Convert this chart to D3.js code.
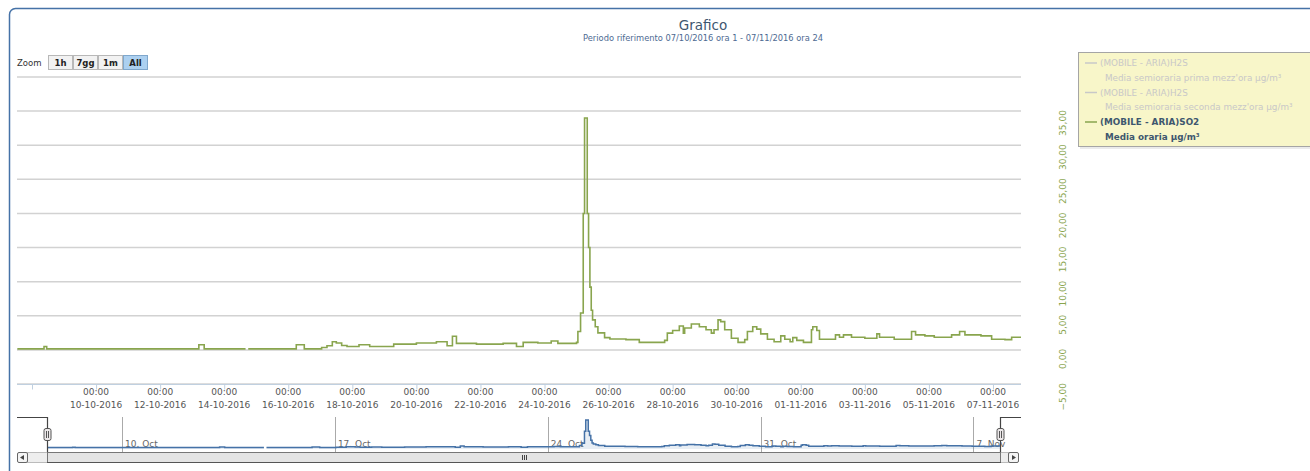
<!DOCTYPE html>
<html>
<head>
<meta charset="utf-8">
<script src="https://cdn.jsdelivr.net/npm/d3@7"></script>
<style>
  body { margin: 0; background: #fff; }
  svg { display: block; font-family: "DejaVu Sans", sans-serif; }
</style>
</head>
<body>
<svg id="chart" width="1310" height="471"></svg>
<script>
// SO2 hourly mean (only the points where the level changes)
var so2Times = [
  "2016-10-07 13:00", "2016-10-08 09:00", "2016-10-08 11:00", "2016-10-13 05:00", "2016-10-13 09:00",
  "2016-10-14 16:00", "2016-10-14 17:00", "2016-10-14 18:00", "2016-10-16 06:00", "2016-10-16 12:00",
  "2016-10-17 01:00", "2016-10-17 05:00", "2016-10-17 09:00", "2016-10-17 12:00", "2016-10-17 16:00",
  "2016-10-17 20:00", "2016-10-18 05:00", "2016-10-18 13:00", "2016-10-19 07:00", "2016-10-20 00:00",
  "2016-10-20 15:00", "2016-10-20 23:00", "2016-10-21 03:00", "2016-10-21 06:00", "2016-10-21 21:00",
  "2016-10-22 17:00", "2016-10-23 03:00", "2016-10-23 08:00", "2016-10-23 19:00", "2016-10-24 05:00",
  "2016-10-24 10:00", "2016-10-25 00:00", "2016-10-25 01:00", "2016-10-25 03:00", "2016-10-25 05:00",
  "2016-10-25 06:00", "2016-10-25 08:00", "2016-10-25 09:00", "2016-10-25 10:00", "2016-10-25 11:00",
  "2016-10-25 12:00", "2016-10-25 14:00", "2016-10-25 16:00", "2016-10-25 21:00", "2016-10-26 01:00",
  "2016-10-26 13:00", "2016-10-26 23:00", "2016-10-27 18:00", "2016-10-27 20:00", "2016-10-28 00:00",
  "2016-10-28 05:00", "2016-10-28 08:00", "2016-10-28 09:00", "2016-10-28 14:00", "2016-10-28 20:00",
  "2016-10-29 01:00", "2016-10-29 05:00", "2016-10-29 07:00", "2016-10-29 10:00", "2016-10-29 12:00",
  "2016-10-29 15:00", "2016-10-29 20:00", "2016-10-30 01:00", "2016-10-30 06:00", "2016-10-30 08:00",
  "2016-10-30 12:00", "2016-10-30 15:00", "2016-10-30 18:00", "2016-10-30 23:00", "2016-10-31 04:00",
  "2016-10-31 09:00", "2016-10-31 12:00", "2016-10-31 16:00", "2016-10-31 18:00", "2016-10-31 21:00",
  "2016-11-01 02:00", "2016-11-01 08:00", "2016-11-01 09:00", "2016-11-01 12:00", "2016-11-01 14:00",
  "2016-11-02 02:00", "2016-11-02 05:00", "2016-11-02 08:00", "2016-11-02 14:00", "2016-11-03 00:00",
  "2016-11-03 09:00", "2016-11-03 11:00", "2016-11-03 22:00", "2016-11-04 11:00", "2016-11-04 14:00",
  "2016-11-04 21:00", "2016-11-05 04:00", "2016-11-05 17:00", "2016-11-05 23:00", "2016-11-06 03:00",
  "2016-11-06 15:00", "2016-11-06 23:00", "2016-11-07 09:00", "2016-11-07 14:00", "2016-11-07 21:00"
];
var so2Values = [
  0.15, 0.5, 0.15, 0.75, 0.15,
  0.15, null, 0.15, 0.75, 0.15,
  0.35, 0.6, 1.2, 1.0, 0.65,
  0.5, 0.75, 0.5, 0.85, 1.0,
  1.2, 0.6, 2.0, 0.95, 0.85,
  0.95, 0.5, 1.1, 1.0, 1.3,
  0.95, 1.1, 2.7, 5.4, 20,
  34, 20, 15, 9.2, 5.8,
  4.4, 3.4, 2.5, 1.8, 1.6,
  1.5, 1.1, 1.4, 2.45, 2.85,
  3.5, 2.45, 3.2, 3.8, 3.4,
  2.95, 2.45, 2.95, 4.4, 4.15,
  2.95, 1.7, 1.1, 1.5, 2.7,
  3.4, 3.05, 2.35, 1.55, 1.2,
  2.05, 1.55, 1.2, 1.8, 1.4,
  1.1, 2.95, 3.4, 2.85, 1.55,
  2.2, 1.85, 2.2, 1.85, 1.7,
  2.35, 1.85, 1.55, 2.7, 2.2,
  2.05, 1.85, 2.2, 2.7, 2.2,
  2.05, 1.55, 1.5, 1.85, 1.85
];

var xStart = "2016-10-07 12:45", xEnd = "2016-11-07 21:00";
var xTickDates = ["2016-10-08", "2016-10-10", "2016-10-12", "2016-10-14", "2016-10-16", "2016-10-18",
  "2016-10-20", "2016-10-22", "2016-10-24", "2016-10-26", "2016-10-28", "2016-10-30",
  "2016-11-01", "2016-11-03", "2016-11-05", "2016-11-07"];
var yTicks = [-5, 0, 5, 10, 15, 20, 25, 30, 35, 40];
var yLabelTicks = [-5, 0, 5, 10, 15, 20, 25, 30, 35];
var navTickDates = ["2016-10-10", "2016-10-17", "2016-10-24", "2016-10-31", "2016-11-07"];
var zoomButtons = ["1h", "7gg", "1m", "All"];
var legendNames = ["(MOBILE - ARIA)H2S", "(MOBILE - ARIA)H2S", "(MOBILE - ARIA)SO2"];
var legendUnits = ["Media semioraria prima mezz'ora \u00b5g/m\u00b3",
  "Media semioraria seconda mezz'ora \u00b5g/m\u00b3", "Media oraria \u00b5g/m\u00b3"];
var legendVisible = [false, false, true];

var green = "#89A54E", blue = "#4572A7", title = "#3E576F";

var parseT = d3.timeParse("%Y-%m-%d %H:%M"),
    parseD = d3.timeParse("%Y-%m-%d");
var data = so2Times.map(function(t, i) { return {t: parseT(t), v: so2Values[i]}; });

var svg = d3.select("#chart");

var plotL = 17, plotR = 1021, plotT = 77, plotB = 384;
var x = d3.scaleTime().domain([parseT(xStart), parseT(xEnd)]).range([plotL, plotR]);
var y = d3.scaleLinear().domain([-5, 40]).range([plotB, plotT]);

// outer frame
svg.append("rect")
  .attr("x", 9.5).attr("y", 8.5).attr("width", 1330).attr("height", 500)
  .attr("rx", 6).attr("fill", "#fff").attr("stroke", blue).attr("stroke-width", 1.5);

// titles
svg.append("text").attr("x", 703).attr("y", 30).attr("text-anchor", "middle")
  .attr("font-size", 13.5).attr("fill", title).text("Grafico");
svg.append("text").attr("x", 703).attr("y", 41).attr("text-anchor", "middle")
  .attr("font-size", 8.3).attr("fill", "#4d6a92")
  .text("Periodo riferimento 07/10/2016 ora 1 - 07/11/2016 ora 24");

// zoom buttons
svg.append("text").attr("x", 17).attr("y", 66).attr("font-size", 8.5).attr("fill", "#333").text("Zoom");
var bx = d3.scaleBand().domain(zoomButtons).range([48, 147]).paddingInner(0.04);
var btn = svg.selectAll("g.btn").data(zoomButtons).enter().append("g").attr("class", "btn");
btn.append("rect")
  .attr("x", function(d) { return bx(d) + 0.5; }).attr("y", 55.5)
  .attr("width", bx.bandwidth()).attr("height", 14)
  .attr("fill", function(d) { return d == "All" ? "#acd0f0" : "#f2f2f2"; })
  .attr("stroke", function(d) { return d == "All" ? "#7fa7cc" : "#b8b8b8"; });
btn.append("text")
  .attr("x", function(d) { return bx(d) + bx.bandwidth() / 2 + 0.5; }).attr("y", 66)
  .attr("text-anchor", "middle").attr("font-size", 8.5).attr("font-weight", "bold").attr("fill", "#222")
  .text(function(d) { return d; });

// grid
svg.append("g").selectAll("line").data(yTicks).enter().append("line")
  .attr("x1", plotL).attr("x2", plotR)
  .attr("y1", function(d) { return y(d); }).attr("y2", function(d) { return y(d); })
  .attr("stroke", "#d2d2d2").attr("stroke-width", 1.5);

// x axis
var xAxis = svg.append("g").attr("transform", "translate(0," + (plotB + 0.5) + ")")
  .call(d3.axisBottom(x).tickValues(xTickDates.map(parseD)).tickSize(5).tickFormat(""));
xAxis.select(".domain").attr("stroke", "#C0D0E0").attr("d", "M" + plotL + ",0H" + plotR);
xAxis.selectAll(".tick line").attr("stroke", "#C0D0E0");

var fmtDay = d3.timeFormat("%d-%m-%Y");
var xl = svg.append("g").attr("font-size", 9).attr("fill", "#555").attr("text-anchor", "middle");
xl.selectAll("text.h").data(xTickDates.slice(1)).enter().append("text")
  .attr("x", function(d) { return x(parseD(d)); }).attr("y", 395).text("00:00");
xl.selectAll("text.d").data(xTickDates.slice(1)).enter().append("text")
  .attr("x", function(d) { return x(parseD(d)); }).attr("y", 408)
  .text(function(d) { return fmtDay(parseD(d)); });

// y labels on the right, rotated
svg.append("g").selectAll("text").data(yLabelTicks).enter().append("text")
  .attr("transform", function(d) { return "translate(1066," + (y(d) - 1) + ") rotate(-90)"; })
  .attr("text-anchor", "end").attr("font-size", 9).attr("fill", green)
  .text(function(d) { return d3.format(".2f")(d).replace(".", ","); });

// series
svg.append("clipPath").attr("id", "plotclip").append("rect")
  .attr("x", plotL).attr("y", plotT - 10).attr("width", plotR - plotL).attr("height", plotB - plotT + 10);
var line = d3.line()
  .defined(function(d) { return d.v != null; })
  .x(function(d) { return x(d.t); })
  .y(function(d) { return y(d.v); })
  .curve(d3.curveStepAfter);
svg.append("path").datum(data).attr("clip-path", "url(#plotclip)")
  .attr("d", line).attr("fill", "none").attr("stroke", green).attr("stroke-width", 1.6);

// legend
var lg = svg.append("g");
lg.append("rect").attr("x", 1080).attr("y", 54).attr("width", 240).attr("height", 95)
  .attr("fill", "#000").attr("opacity", 0.08);
lg.append("rect").attr("x", 1078.5).attr("y", 52.5).attr("width", 240).attr("height", 94)
  .attr("fill", "#f8f6c9").attr("stroke", "#a5a5a5");
legendNames.forEach(function(n, i) {
  var ly = 66 + i * 29.5;
  var col = legendVisible[i] ? title : "#c8c8c8";
  lg.append("line").attr("x1", 1085).attr("x2", 1097).attr("y1", ly - 3).attr("y2", ly - 3)
    .attr("stroke", legendVisible[i] ? green : "#c8c8c8").attr("stroke-width", 1.5);
  lg.append("text").attr("x", 1100).attr("y", ly).attr("font-size", 8.8).attr("fill", col)
    .attr("font-weight", legendVisible[i] ? "bold" : "normal").text(n);
  lg.append("text").attr("x", 1105).attr("y", ly + 14.5).attr("font-size", 8.8).attr("fill", col)
    .attr("font-weight", legendVisible[i] ? "bold" : "normal").text(legendUnits[i]);
});

// navigator
var navT = 417, navB = 449;
var xn = d3.scaleTime().domain(x.domain()).range([47, 1000]);
var yn = d3.scaleLinear().domain(d3.extent(so2Values)).range([447.5, 420]);

var nt = svg.append("g");
nt.selectAll("line").data(navTickDates).enter().append("line")
  .attr("x1", function(d) { return Math.round(xn(parseD(d))) + 0.5; })
  .attr("x2", function(d) { return Math.round(xn(parseD(d))) + 0.5; })
  .attr("y1", navT).attr("y2", navB + 3).attr("stroke", "#aaa");
nt.selectAll("text").data(navTickDates).enter().append("text")
  .attr("x", function(d) { return xn(parseD(d)) + 3; }).attr("y", 447)
  .attr("font-size", 9).attr("fill", "#666")
  .text(function(d) { return d3.timeFormat("%-d. %b")(parseD(d)); });

var navArea = d3.area()
  .defined(function(d) { return d.v != null; })
  .x(function(d) { return xn(d.t); })
  .y0(navB).y1(function(d) { return yn(d.v); })
  .curve(d3.curveStepAfter);
var navLine = d3.line()
  .defined(function(d) { return d.v != null; })
  .x(function(d) { return xn(d.t); })
  .y(function(d) { return yn(d.v); })
  .curve(d3.curveStepAfter);
svg.append("path").datum(data).attr("d", navArea).attr("fill", blue).attr("opacity", 0.12);
svg.append("path").datum(data).attr("d", navLine).attr("fill", "none").attr("stroke", blue).attr("stroke-width", 1.5);

// navigator outline and handles
svg.append("path")
  .attr("d", "M17,417.5H47.5V463M1000.5,463V417.5H1021")
  .attr("fill", "none").attr("stroke", "#444").attr("stroke-width", 1.2);
[47.5, 1000.5].forEach(function(hx) {
  svg.append("rect").attr("x", hx - 3.5).attr("y", 428.5).attr("width", 7).attr("height", 12)
    .attr("rx", 2).attr("fill", "#ebe7e8").attr("stroke", "#555");
  svg.append("path").attr("d", "M" + (hx - 1) + ",431V438M" + (hx + 1) + ",431V438")
    .attr("stroke", "#555").attr("stroke-width", 1);
});

// scrollbar
var sb = svg.append("g");
sb.append("rect").attr("x", 27.5).attr("y", 452.5).attr("width", 981).attr("height", 10)
  .attr("fill", "#eeeeee").attr("stroke", "#bbb");
sb.append("rect").attr("x", 47.5).attr("y", 452.5).attr("width", 953).attr("height", 10)
  .attr("fill", "#e4e4e4").attr("stroke", "#777");
sb.append("line").attr("x1", 47).attr("x2", 1001).attr("y1", 462.5).attr("y2", 462.5)
  .attr("stroke", "#555");
sb.append("path").attr("d", "M522.5,455V460M524.5,455V460M526.5,455V460").attr("stroke", "#444");
[[17.5, "M24,455L20,457.5L24,460Z"], [1008.5, "M1012,455L1016,457.5L1012,460Z"]].forEach(function(b) {
  sb.append("rect").attr("x", b[0]).attr("y", 452.5).attr("width", 10).attr("height", 10)
    .attr("rx", 1.5).attr("fill", "#f4f4f4").attr("stroke", "#666");
  sb.append("path").attr("d", b[1]).attr("fill", "#444");
});
</script>
</body>
</html>
